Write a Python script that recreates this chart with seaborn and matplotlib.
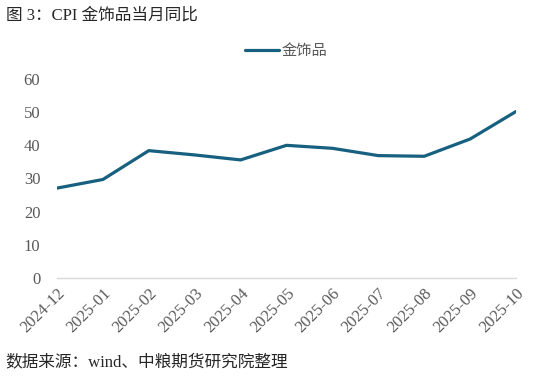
import numpy as np
import matplotlib
matplotlib.use("Agg")
import matplotlib.pyplot as plt
import seaborn as sns
import pandas as pd

# data
months = ["2024-12", "2025-01", "2025-02", "2025-03", "2025-04", "2025-05",
          "2025-06", "2025-07", "2025-08", "2025-09", "2025-10"]
gold_jewelry = [27.1, 29.7, 38.4, 37.1, 35.6, 40.0, 39.1, 36.9, 36.7, 41.9, 50.2]
series_name = "金饰品"

sns.set_style("white")
plt.rcParams['font.family'] = ['Liberation Serif', 'Noto Sans CJK SC', 'DejaVu Sans']

df = pd.DataFrame({"month": months, "value": gold_jewelry, "series": series_name})

fig = plt.figure(figsize=(5.5, 3.81), dpi=100)
ax = fig.add_axes([0.1036, 0.2703, 0.8346, 0.5224])

sns.lineplot(data=df, x="month", y="value", hue="series", palette=["#17607f"],
             linewidth=2.3, ax=ax, sort=False)

ax.set_xlim(0, len(months) - 1)
ax.set_ylim(0, 60)
ax.set_yticks(np.arange(0, 61, 10))
ax.set_xlabel("")
ax.set_ylabel("")

for s in ["top", "right", "left"]:
    ax.spines[s].set_visible(False)
ax.spines["bottom"].set_color("#d9d9d9")
ax.spines["bottom"].set_linewidth(1.0)

ax.tick_params(axis="both", length=0, labelsize=12, colors="#595959")
ax.tick_params(axis="y", pad=12)
ax.tick_params(axis="x", pad=5)
plt.setp(ax.get_xticklabels(), rotation=45, ha="right", rotation_mode="anchor")

leg = ax.legend(loc="lower center", bbox_to_anchor=(0.5, 1.035), frameon=False,
                fontsize=11, handlelength=2.2, handletextpad=0.2)
for t in leg.get_texts():
    t.set_color("#595959")

fig.text(0.01, 0.96, "图 3：CPI 金饰品当月同比", fontsize=12, color="#262626",
         va="center", ha="left")
fig.text(0.01, 0.05, "数据来源：wind、中粮期货研究院整理", fontsize=12, color="#262626",
         va="center", ha="left")

fig.savefig("out.png", dpi=100)
